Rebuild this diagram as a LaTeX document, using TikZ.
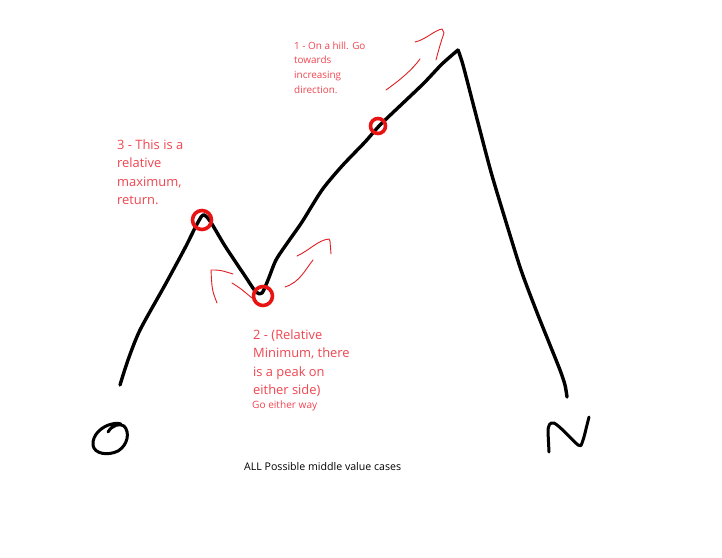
\documentclass[tikz,border=0pt]{standalone}
\usepackage{fontspec}
\setmainfont{Open Sans}
\definecolor{txtred}{RGB}{240,70,80}
\definecolor{ringred}{RGB}{232,20,20}
\definecolor{penred}{RGB}{225,30,35}
\tikzset{
  ink/.style={line width=3.4pt,line cap=round,line join=round,black},
  ring/.style={line width=3.6pt,ringred},
  pen/.style={line width=0.9pt,line cap=round,line join=round,penred},
  note/.style={inner sep=0pt,anchor=north west,align=left,text=txtred},
}
\begin{document}
\begin{tikzpicture}[x=1pt,y=-1pt]
\useasboundingbox (0,0) rectangle (722,557);
\fill[white] (0,0) rectangle (722,557);
% main curve
\draw[ink] plot[smooth,tension=0.45] coordinates {
 (120,385) (128,360) (140,330) (165,285) (185,248) (196,226) (203,215) (210,221)
 (225,246) (245,276) (256,292) (262,293) (268,280) (276,260) (288,242) (302,222)
 (322,190) (342,166) (365,142) (380,125) (402,104) (424,83) (442,64) (458,50)};
\draw[ink] plot[smooth,tension=0.45] coordinates {
 (458,50) (463,65) (476,115) (491,172) (506,222) (521,270) (536,310) (550,345)
 (560,370) (565,385) (567,397)};
% rings
\draw[ring] (202,220) circle (9.5);
\draw[ring] (263,296) circle (9.5);
\draw[ring] (378,126) circle (7.5);
% hand-drawn arrows
\draw[pen] (386,90) .. controls (400,80) and (412,70) .. (420,59);
\draw[pen] (415,42) .. controls (425,40) and (435,30) .. (442,29) -- (444,33) .. controls (440,45) .. (436,60);
\draw[pen] (217,303) .. controls (212,290) .. (211,270) .. controls (220,270) .. (233,274);
\draw[pen] (232,283) .. controls (240,288) .. (252,298);
\draw[pen] (297,256) .. controls (310,250) and (318,240) .. (329,239) -- (330,241) .. controls (331,248) .. (331,254);
\draw[pen] (285,287) .. controls (300,282) and (305,270) .. (313,260);
% letters O and N
\draw[ink,line width=3pt] (108,432) .. controls (112,425) and (120,423) .. (124,426)
  .. controls (130,432) and (128,445) .. (118,451)
  .. controls (108,456) and (94,454) .. (93,445)
  .. controls (92,435) and (102,426) .. (112,424) .. controls (117,423) .. (121,424);
\draw[ink,line width=3pt] (549,452) -- (548,432) .. controls (548,425) and (550,422) .. (554,423)
  .. controls (560,426) and (570,438) .. (578,445) .. controls (581,446) .. (582,443)
  .. controls (585,435) and (586,428) .. (587,425) -- (589,417);
% texts
\node[note,font=\fontsize{9.9}{14.6}\selectfont] (t1) at (294,41.5) {1 - On a hill. Go\\towards\\increasing\\direction.};
\node[note,font=\fontsize{12.9}{18.6}\selectfont] (t3) at (117,139) {3 - This is a\\relative\\maximum,\\return.};
\node[note,font=\fontsize{12.9}{18.6}\selectfont] (t2) at (253,329) {2 - (Relative\\Minimum, there\\is a peak on\\either side)};
\node[note,font=\fontsize{10.1}{12}\selectfont] (t2b) at (252,401) {Go either way};
\node[inner sep=0pt,anchor=north west,font=\fontsize{10.6}{12}\selectfont] (cap) at (244,462) {ALL Possible middle value cases};
\end{tikzpicture}
\end{document}
